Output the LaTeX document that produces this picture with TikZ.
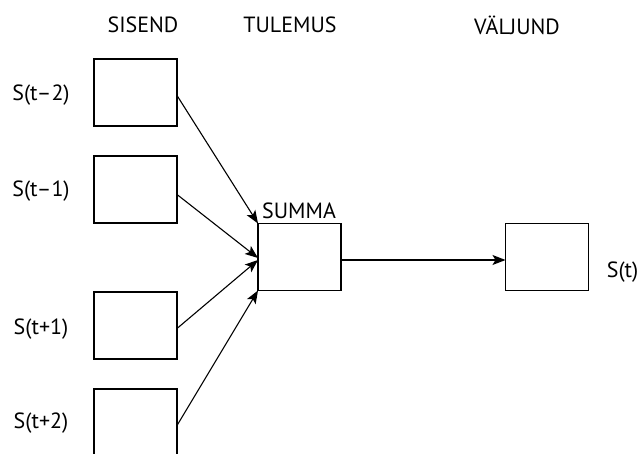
\documentclass[tikz,border=0pt]{standalone}
\usepackage{fontspec}
\setmainfont{PT Sans}
\usetikzlibrary{arrows.meta}
\begin{document}
\begin{tikzpicture}[x=1bp,y=-1bp,
  box/.style={draw,line width=1.1bp,minimum width=83bp,minimum height=67bp,inner sep=0pt,outer sep=0pt},
  lbl/.style={font=\fontsize{22bp}{24bp}\selectfont,inner sep=0pt},
  arr/.style={line width=1.1bp,-{Stealth[length=13bp,width=10bp,inset=3bp]}}]
\useasboundingbox (0,0) rectangle (640,454);
\clip (0,0) rectangle (640,454);
\node[box] (b1) at (135.5,92.5) {};
\node[box] (b2) at (135.5,189.5) {};
\node[box] (b3) at (135.5,325.5) {};
\node[box] (b4) at (135.5,422.5) {};
\node[box] (sum) at (299.5,257) {};
\node[box] (out) at (547,257) {};
\node[lbl] (h1) at (143,25) {SISEND};
\node[lbl] (h2) at (290,25) {TULEMUS};
\node[lbl] (h3) at (517,25) {VÄLJUND};
\node[lbl] (l1) at (41,95) {S(t–2)};
\node[lbl] (l2) at (41,191) {S(t–1)};
\node[lbl] (l3) at (41,329) {S(t+1)};
\node[lbl] (l4) at (41,423) {S(t+2)};
\node[lbl,anchor=east] (lo) at (638.5,272) {S(t)};
\node[lbl,anchor=south west] (ls) at (262,219) {SUMMA};
\draw[arr] ([yshift=-3bp]b1.east) -- (sum.north west);
\draw[arr] ([yshift=-5bp]b2.east) -- ([yshift=-1bp]sum.west);
\draw[arr] ([yshift=-3bp]b3.east) -- ([yshift=-3bp]sum.west);
\draw[arr] ([yshift=-3bp]b4.east) -- (sum.south west);
\draw[arr] ([yshift=-3bp]sum.east) -- ([yshift=-3bp]out.west);
\end{tikzpicture}
\end{document}
